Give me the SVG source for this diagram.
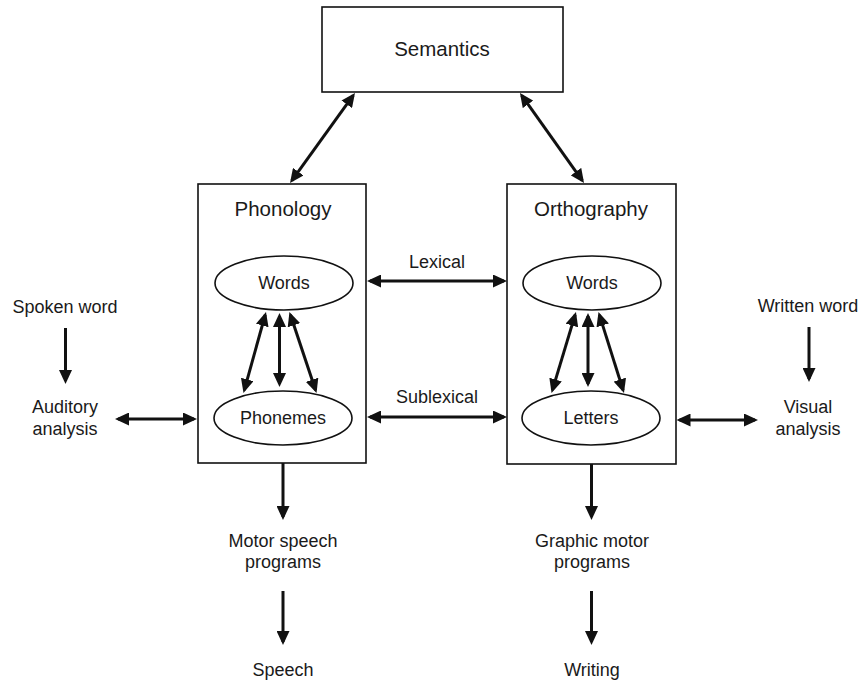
<svg xmlns="http://www.w3.org/2000/svg" width="861" height="683" viewBox="0 0 861 683">
<style>
.box{fill:#fff;stroke:#111;stroke-width:1.6}
.ell{fill:#fff;stroke:#111;stroke-width:1.6}
.t{font-family:"Liberation Sans",Arial,sans-serif;font-size:18px;fill:#1a1a1a;text-anchor:middle}
.h{font-size:20.5px}
.a{stroke:#111;stroke-width:3;fill:none;marker-end:url(#ah)}
.d{marker-start:url(#ah)}
</style>
<defs>
<marker id="ah" markerUnits="userSpaceOnUse" markerWidth="14" markerHeight="13" viewBox="0 0 14 13" refX="11" refY="6.5" orient="auto-start-reverse">
<path d="M0,0 L14,6.5 L0,13 z" fill="#111"/>
</marker>
</defs>
<rect width="861" height="683" fill="#fff"/>
<g id="semantics">
<rect class="box" x="322" y="7" width="241" height="85"/>
<text class="t h" x="442" y="56">Semantics</text>
</g>
<g id="phonology">
<rect class="box" x="198" y="184" width="168" height="279"/>
<text class="t h" x="283" y="216">Phonology</text>
</g>
<g id="phon-words">
<ellipse class="ell" cx="284" cy="283" rx="69" ry="27"/>
<text class="t" x="284" y="289">Words</text>
</g>
<g id="phonemes">
<ellipse class="ell" cx="283" cy="418" rx="69" ry="27"/>
<text class="t" x="283" y="424">Phonemes</text>
</g>
<g id="orthography">
<rect class="box" x="507" y="184" width="169" height="280"/>
<text class="t h" x="591" y="216">Orthography</text>
</g>
<g id="orth-words">
<ellipse class="ell" cx="592" cy="283" rx="69" ry="27"/>
<text class="t" x="592" y="289">Words</text>
</g>
<g id="letters">
<ellipse class="ell" cx="591" cy="418" rx="69" ry="27"/>
<text class="t" x="591" y="424">Letters</text>
</g>
<g id="spoken-word"><text class="t" x="65" y="313">Spoken word</text></g>
<g id="auditory-analysis"><text class="t" x="65" y="413">Auditory</text><text class="t" x="65" y="435">analysis</text></g>
<g id="written-word"><text class="t" x="808" y="312">Written word</text></g>
<g id="visual-analysis"><text class="t" x="808" y="413">Visual</text><text class="t" x="808" y="435">analysis</text></g>
<g id="motor-speech"><text class="t" x="283" y="547">Motor speech</text><text class="t" x="283" y="568">programs</text></g>
<g id="graphic-motor"><text class="t" x="592" y="547">Graphic motor</text><text class="t" x="592" y="568">programs</text></g>
<g id="speech"><text class="t" x="283" y="676">Speech</text></g>
<g id="writing"><text class="t" x="592" y="676">Writing</text></g>
<g id="connectors">
<line class="a d" x1="353.2" y1="95.4" x2="291.8" y2="180.6"/>
<line class="a d" x1="521.7" y1="95.4" x2="582.3" y2="180.6"/>
<line class="a d" x1="265.2" y1="314.9" x2="244.3" y2="390.1"/>
<line class="a d" x1="279.5" y1="316" x2="279.5" y2="384"/>
<line class="a d" x1="290.4" y1="314.8" x2="315.6" y2="390.2"/>
<line class="a d" x1="575.1" y1="314.9" x2="552.4" y2="390.1"/>
<line class="a d" x1="588" y1="316" x2="588" y2="384"/>
<line class="a d" x1="599.4" y1="314.9" x2="623.1" y2="390.1"/>
<line class="a d" x1="370" y1="281" x2="504" y2="281"/>
<text class="t" x="437" y="268">Lexical</text>
<line class="a d" x1="370" y1="417" x2="504" y2="417"/>
<text class="t" x="437" y="403">Sublexical</text>
<line class="a d" x1="118" y1="419" x2="194" y2="419"/>
<line class="a d" x1="679.5" y1="420" x2="755" y2="420"/>
<line class="a" x1="65.5" y1="328" x2="65.5" y2="381"/>
<line class="a" x1="809" y1="327" x2="809" y2="379"/>
<line class="a" x1="283" y1="463" x2="283" y2="517"/>
<line class="a" x1="283" y1="591" x2="283" y2="642"/>
<line class="a" x1="591.5" y1="464" x2="591.5" y2="517"/>
<line class="a" x1="591.5" y1="591" x2="591.5" y2="642"/>
</g>
</svg>
